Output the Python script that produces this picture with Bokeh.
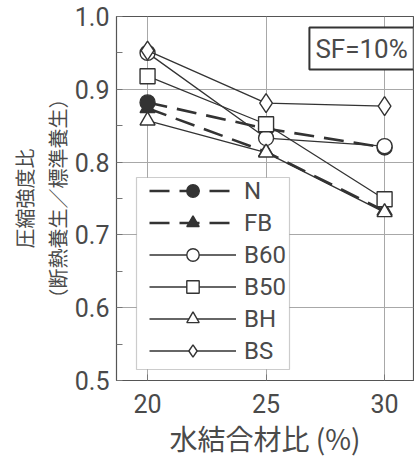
from bokeh.plotting import figure
from bokeh.models import (Range1d, FixedTicker, Label, Legend, LegendItem,
                          BoxAnnotation, Title)
from bokeh.embed import file_html
from bokeh.resources import INLINE

# ---- data ----
wb = [20, 25, 30]
N = [0.882, 0.846, 0.820]
FB = [0.874, 0.814, 0.733]
B60 = [0.950, 0.833, 0.822]
B50 = [0.918, 0.852, 0.749]
BH = [0.857, 0.813, 0.731]
BS = [0.953, 0.881, 0.877]
x_ticks = [20, 25, 30]
y_ticks = [0.5, 0.6, 0.7, 0.8, 0.9, 1.0]
y_tick_labels = ["0.5", "0.6", "0.7", "0.8", "0.9", "1.0"]
x_title = "水結合材比 (%)"
y_title1 = "圧縮強度比"
y_title2 = "（断熱養生／標準養生）"
note = "SF=10%"

INK = "#333333"
TXT = "#4a4a4a"
LAT = "Roboto"
CJK = "Noto Sans CJK JP"

p = figure(frame_width=297, frame_height=364,
           min_border_left=116, min_border_right=1,
           min_border_top=16, min_border_bottom=60,
           x_range=Range1d(18.69, 31.22), y_range=Range1d(0.5, 1.0),
           output_backend="svg", toolbar_location=None,
           background_fill_color="white", border_fill_color="white")

p.outline_line_color = "#555555"
p.outline_line_width = 1.2

# grid
p.xgrid.ticker = FixedTicker(ticks=x_ticks)
p.ygrid.ticker = FixedTicker(ticks=y_ticks)
for g in (p.xgrid, p.ygrid):
    g.grid_line_color = "#a8a8a8"
    g.grid_line_width = 1

# axes
p.xaxis.ticker = FixedTicker(ticks=x_ticks)
p.yaxis.ticker = FixedTicker(ticks=y_ticks,
                             minor_ticks=[0.55, 0.65, 0.75, 0.85, 0.95])
p.yaxis.major_label_overrides = {t: l for t, l in zip(y_ticks, y_tick_labels)}
for ax in (p.xaxis[0], p.yaxis[0]):
    ax.axis_line_color = "#555555"
    ax.major_tick_in = 6
    ax.major_tick_out = 0
    ax.major_tick_line_color = "#777777"
    ax.minor_tick_in = 6
    ax.minor_tick_out = 0
    ax.minor_tick_line_color = "#777777"
    ax.major_label_text_font = LAT
    ax.major_label_text_font_size = "25px"
    ax.major_label_text_color = TXT
p.yaxis.major_label_standoff = 7
p.xaxis.major_label_standoff = 13

# x title as a title below the axis (allows a horizontal offset)
tx = Title(text=x_title, align="center", text_font=CJK,
           text_font_size="28px", text_font_style="normal",
           text_color=TXT, standoff=0, offset=-13)
p.add_layout(tx, "below")

# y titles as two left-side titles (inner line first)
t2 = Title(text=y_title2, align="center", text_font=CJK,
           text_font_size="20px", text_font_style="normal",
           text_color=TXT, standoff=0, offset=-6)
t1 = Title(text=y_title1, align="center", text_font=CJK,
           text_font_size="20px", text_font_style="normal",
           text_color=TXT, standoff=3, offset=-6)
p.add_layout(t2, "left")
p.add_layout(t1, "left")

# series
specs = [
    ("FB", FB, "triangle", INK, 2.6, "20 10"),
    ("N", N, "circle", INK, 2.6, "20 10"),
    ("B60", B60, "circle", "white", 1.3, "solid"),
    ("B50", B50, "square", "white", 1.3, "solid"),
    ("BH", BH, "triangle", "white", 1.3, "solid"),
    ("BS", BS, "diamond", "white", 1.3, "solid"),
]
items = {}
for name, ys, mk, fill, lw, dash in specs:
    lr = p.line(wb, ys, line_color=INK, line_width=lw, line_dash=dash)
    sz = 19 if mk == "diamond" else 15
    sr = p.scatter(wb, ys, marker=mk, size=sz, fill_color=fill,
                   line_color=INK, line_width=1.4)
    items[name] = LegendItem(label=name, renderers=[lr, sr])

# legend frame (drawn separately for asymmetric padding)
box = BoxAnnotation(left=20, right=173, bottom=11, top=203,
                    left_units="screen", right_units="screen",
                    bottom_units="screen", top_units="screen",
                    fill_color="white", fill_alpha=1.0,
                    line_color="#555555", line_width=1.2, level="annotation")
p.add_layout(box)

legend = Legend(items=[items[k] for k in ["N", "FB", "B60", "B50", "BH", "BS"]],
                location=(33, 14), orientation="vertical",
                glyph_width=87, glyph_height=31, label_height=31,
                spacing=1, padding=0, margin=0, label_standoff=8,
                label_text_font=LAT, label_text_font_size="24px",
                label_text_color=TXT,
                background_fill_alpha=0, border_line_color=None)
p.add_layout(legend, "center")

# note box
p.add_layout(Label(x=29.03, y=0.956, text=note, text_align="center",
                   text_baseline="middle", text_font=LAT,
                   text_font_size="26px", text_color=TXT,
                   border_line_color="#333333", border_line_width=2,
                   background_fill_color="white", padding=6))

open("out.html", "w").write(file_html(p, INLINE))
